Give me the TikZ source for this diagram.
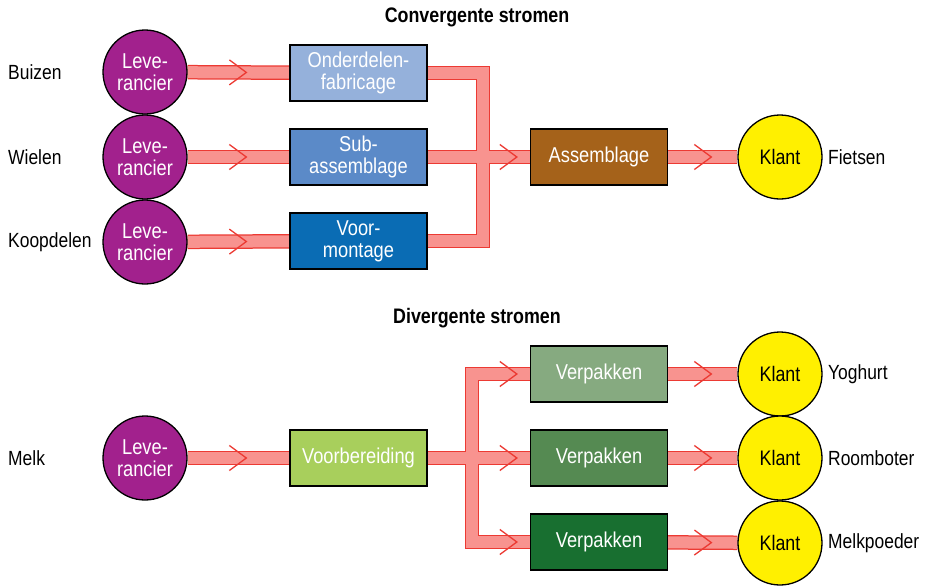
\documentclass[tikz,border=0pt]{standalone}
\usepackage{fontspec}
\setmainfont{Liberation Sans}[FakeStretch=0.85]
\usetikzlibrary{decorations.markings}

\definecolor{bandred}{HTML}{EC3A33}
\definecolor{bandpink}{HTML}{F8938F}
\definecolor{levpurple}{HTML}{A2218D}
\definecolor{klantgeel}{HTML}{FFF000}
\definecolor{cOnder}{HTML}{95B1DB}
\definecolor{cSub}{HTML}{5B8AC8}
\definecolor{cVoor}{HTML}{0A6CB4}
\definecolor{cAsm}{HTML}{A5621A}
\definecolor{cPrep}{HTML}{A8CF5C}
\definecolor{cPak1}{HTML}{86AA80}
\definecolor{cPak2}{HTML}{558A52}
\definecolor{cPak3}{HTML}{186F30}

\pgfdeclarelayer{bands}
\pgfsetlayers{bands,main}

\begin{document}
\begin{tikzpicture}[x=1pt,y=-1pt,
  boxtxt/.style={font=\fontsize{21.5}{22}\selectfont, text=white, align=center},
  proc/.style={boxtxt, draw=black, line width=1.3pt, minimum width=137pt,
    minimum height=56pt, inner sep=0pt},
  supplier/.style={boxtxt, circle, draw=black, line width=1.3pt, fill=levpurple,
    minimum size=84pt, inner sep=0pt},
  client/.style={circle, draw=black, line width=1.3pt, fill=klantgeel,
    minimum size=84pt, inner sep=0pt, font=\fontsize{21}{22}\selectfont, text=black},
  side/.style={anchor=west, inner sep=0pt, font=\fontsize{20.5}{22}\selectfont},
  heading/.style={font=\fontsize{21}{24}\selectfont\bfseries},
  bandout/.style={draw=bandred, line width=14.5pt, line join=miter},
  bandin/.style={draw=bandpink, line width=12pt, line join=miter},
  chev/.style={postaction={decorate, decoration={markings,
    mark=at position #1 with {\draw[bandred, line width=1.3pt, line join=miter]
      (-17,-12.5) -- (0,0) -- (-17,12.5);}}}}
]
\useasboundingbox (0,0) rectangle (930,587);
\begin{pgfonlayer}{bands}
  \fill[white] (0,0) rectangle (930,587);
\end{pgfonlayer}

% ---------- convergent flow ----------
\node[heading] (tconv) at (477,17) {Convergente stromen};

\node[supplier] (lev1) at (145,72)  {Leve-\\rancier};
\node[supplier] (lev2) at (145,157) {Leve-\\rancier};
\node[supplier] (lev3) at (145,242) {Leve-\\rancier};

\node[side] (buizen) at (8,72)  {Buizen};
\node[side] (wielen) at (8,157) {Wielen};
\node[side] (koop)   at (8,242) {Koopdelen};

\node[proc, fill=cOnder] (ofab) at (358.5,73)  {Onderdelen-\\fabricage};
\node[proc, fill=cSub]   (sub)  at (358.5,157) {Sub-\\assemblage};
\node[proc, fill=cVoor]  (voor) at (358.5,241) {Voor-\\montage};

\node[proc, fill=cAsm] (asm) at (599,157) {Assemblage};
\node[client] (kl1) at (780,157) {Klant};
\node[side] (fiets) at (828,157) {Fietsen};

\coordinate (cj) at (483,157);

% ---------- divergent flow ----------
\node[heading] (tdiv) at (477,318) {Divergente stromen};

\node[side] (melk) at (8,458) {Melk};
\node[supplier] (lev4) at (145,458) {Leve-\\rancier};
\node[proc, fill=cPrep] (vb) at (358.5,458) {Voorbereiding};

\node[proc, fill=cPak1] (vp1) at (599,374) {Verpakken};
\node[proc, fill=cPak2] (vp2) at (599,458) {Verpakken};
\node[proc, fill=cPak3] (vp3) at (599,542) {Verpakken};

\node[client] (kl2) at (780,374) {Klant};
\node[client] (kl3) at (780,458) {Klant};
\node[client] (kl4) at (780,543) {Klant};

\node[side] (yog)  at (828,374) {Yoghurt};
\node[side] (room) at (828,458) {Roomboter};
\node[side] (mpoe) at (828,543) {Melkpoeder};

\coordinate (sj) at (472,458);

% ---------- flow bands: outlines first, then fills ----------
\begin{pgfonlayer}{bands}
  \foreach \a/\b in {lev1/ofab, lev2/sub, lev3/voor, asm/kl1, lev4/vb,
                     vp1/kl2, vp2/kl3, vp3/kl4}
    \draw[bandout] (\a) -- (\b);
  \draw[bandout] (ofab.east) -| (cj) |- (voor.east);
  \draw[bandout] (sub.east) -- (asm.west);
  \draw[bandout] (vb.east) -- (vp2.west);
  \draw[bandout] (sj) |- (vp1.west);
  \draw[bandout] (sj) |- (vp3.west);

  \foreach \a/\b in {lev1/ofab, lev2/sub, lev3/voor, lev4/vb}
    \draw[bandin, chev=-43pt] (\a) -- (\b);
  \foreach \a/\b in {asm/kl1, vp1/kl2, vp2/kl3, vp3/kl4}
    \draw[bandin, chev=-26pt] (\a) -- (\b);
  \draw[bandin] (ofab.east) -| (cj) |- (voor.east);
  \draw[bandin, chev=-13pt] (sub.east) -- (asm.west);
  \draw[bandin, chev=-13pt] (vb.east) -- (vp2.west);
  \draw[bandin, chev=-13pt] (sj) |- (vp1.west);
  \draw[bandin, chev=-13pt] (sj) |- (vp3.west);
\end{pgfonlayer}
\end{tikzpicture}
\end{document}
